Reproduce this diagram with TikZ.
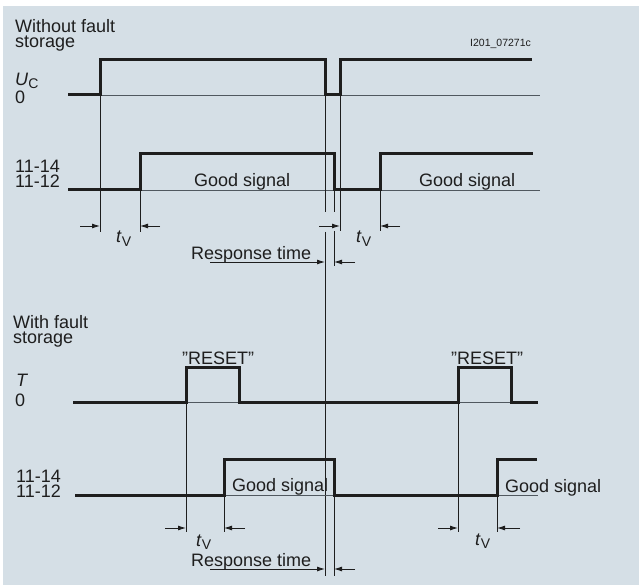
\documentclass[tikz,border=0pt]{standalone}
\usepackage{fontspec}
\setmainfont{Liberation Sans}
\usetikzlibrary{arrows.meta}
\definecolor{panel}{HTML}{D5DFE6}
\definecolor{ink}{HTML}{1E1E1E}
\definecolor{rule}{HTML}{50585F}
\newcommand{\sub}[1]{\raisebox{-3pt}{\fontsize{14}{14}\selectfont #1}}
\tikzset{
  sig/.style={line width=3pt,color=ink},
  base/.style={line width=0.9pt,color=rule},
  guide/.style={line width=0.9pt,color=ink},
  dim/.style={-{Latex[length=8pt,width=5pt]},line width=0.9pt,color=ink},
  lbl/.style={font=\fontsize{18}{15}\selectfont,color=ink,inner sep=0pt,anchor=base west,align=left},
  tag/.style={font=\fontsize{10.5}{12}\selectfont,color=ink,inner sep=0pt,anchor=base west}}

\begin{document}
\begin{tikzpicture}[x=1pt,y=-1pt]
\useasboundingbox (0,0) rectangle (639,585);
\fill[white] (0,0) rectangle (639,585);
\fill[panel] (3,6) rectangle (639,585);

% without fault storage (base = last line)
\node[lbl] (head1) at (15,48) {Without fault\\storage};
\node[tag] (code) at (470,47) {I201\_07271c};
\node[lbl] (uc) at (15,86) {\textit{U}\sub{C}};
\node[lbl] (uc0) at (15,104) {0};
\node[lbl] (r1) at (15,188) {11-14\\11-12};
\node[lbl] (good1) at (194,187) {Good signal};
\node[lbl] (good2) at (419,187) {Good signal};
\node[lbl] (tv1) at (116,243) {\textit{t}\sub{V}};
\node[lbl] (tv2) at (356,243) {\textit{t}\sub{V}};
\node[lbl] (resp1) at (191,259) {Response time};

\draw[base] (100,95) -- (540,95) (140,190) -- (540,190);
\draw[sig] (68,95) -| (100,60) -| (325,95) -| (340,60) -- (532,60);
\draw[sig] (68,190) -| (140,154) -| (334,190) -| (380,154) -- (533,154);
\draw[guide] (100,95) -- (100,232) (140,190) -- (140,232)
  (325,95) -- (325,212) (325,232) -- (325,576)
  (334,190) -- (334,212) (334,231) -- (334,266)
  (340,95) -- (340,231) (380,190) -- (380,231);
\draw[dim] (80,226) -- (100,226); \draw[dim] (160,226) -- (140,226);
\draw[dim] (319,226) -- (340,226); \draw[dim] (400,226) -- (380,226);
\draw[dim] (210,262) -- (325,262); \draw[dim] (355,262) -- (334,262);

% with fault storage
\node[lbl] (head2) at (13,343) {With fault\\storage};
\node[lbl] (t) at (16,386) {\textit{T}};
\node[lbl] (t0) at (15,406) {0};
\node[lbl] (reset1) at (182,364) {"RESET"};
\node[lbl] (reset2) at (451,364) {"RESET"};
\node[lbl] (r2) at (16,497) {11-14\\11-12};
\node[lbl] (good3) at (232,491) {Good signal};
\node[lbl] (good4) at (505,492) {Good signal};
\node[lbl] (tv3) at (196,546) {\textit{t}\sub{V}};
\node[lbl] (tv4) at (475,545) {\textit{t}\sub{V}};
\node[lbl] (resp2) at (191,566) {Response time};

\draw[base] (186,402) -- (239,402) (458,402) -- (511,402)
  (224,495) -- (334,495) (497,495) -- (538,495);
\draw[sig] (73,402) -| (186,367) -| (239,402) -| (458,367) -| (511,402) -- (538,402);
\draw[sig] (75,495) -| (224,459) -| (334,495) -| (497,459) -- (537,459);
\draw[guide] (186,402) -- (186,532) (224,495) -- (224,532)
  (458,402) -- (458,532) (497,495) -- (497,532) (334,495) -- (334,576);
\draw[dim] (165,528) -- (186,528); \draw[dim] (245,528) -- (224,528);
\draw[dim] (438,528) -- (458,528); \draw[dim] (520,528) -- (497,528);
\draw[dim] (210,569) -- (325,569); \draw[dim] (355,569) -- (334,569);
\end{tikzpicture}
\end{document}
